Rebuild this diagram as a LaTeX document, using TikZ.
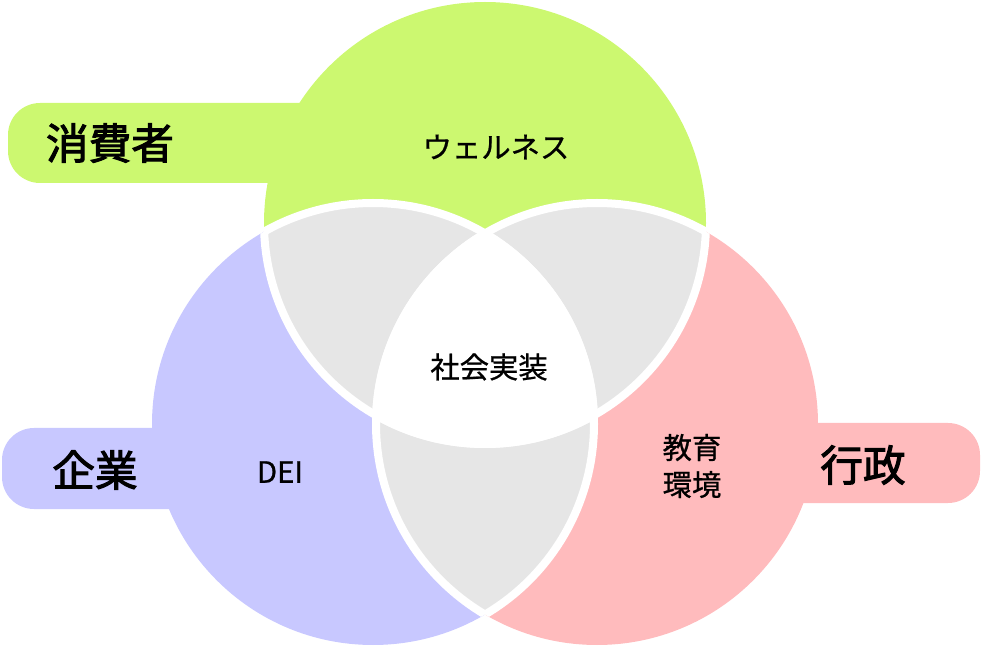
\documentclass[tikz,border=0pt]{standalone}
\usepackage{fontspec}
\setmainfont{Noto Sans CJK JP}
\newfontfamily\labelfont[FakeBold=2.4]{Noto Sans CJK JP}
\newfontfamily\areafont[FakeBold=0.8]{Noto Sans CJK JP}
\definecolor{wellgreen}{HTML}{CCF870}
\definecolor{corppurple}{HTML}{C8C8FF}
\definecolor{govpink}{HTML}{FFBBBD}
\definecolor{overlapgray}{HTML}{E6E6E6}

\begin{document}
\begin{tikzpicture}[
  x=0.75pt,y=-0.75pt,
  tabshape/.style={rounded corners=24pt},
  divider/.style={draw=white,line width=6pt},
  bigtxt/.style={font=\fontsize{32}{38}\selectfont\labelfont},
  smalltxt/.style={font=\fontsize{22}{27.75}\selectfont\areafont,align=center}
]
\useasboundingbox (0,0) rectangle (982,648);
\def\rad{221}
\coordinate (g) at (485,223);
\coordinate (l) at (373,424);
\coordinate (r) at (597,424);

% three circles
\fill[wellgreen] (g) circle[radius=\rad];
\fill[corppurple] (l) circle[radius=\rad];
\fill[govpink] (r) circle[radius=\rad];

% pairwise overlaps
\begin{scope}
  \clip (g) circle[radius=\rad];
  \fill[overlapgray] (l) circle[radius=\rad];
  \fill[overlapgray] (r) circle[radius=\rad];
\end{scope}
\begin{scope}
  \clip (l) circle[radius=\rad];
  \fill[overlapgray] (r) circle[radius=\rad];
\end{scope}

% centre
\begin{scope}
  \clip (g) circle[radius=\rad];
  \clip (l) circle[radius=\rad];
  \fill[white] (r) circle[radius=\rad];
\end{scope}

% white dividing lines, only inside the circles
\begin{scope}
  \clip (g) circle[radius=\rad];
  \draw[divider] (l) circle[radius=\rad];
  \draw[divider] (r) circle[radius=\rad];
\end{scope}
\begin{scope}
  \clip (l) circle[radius=\rad];
  \draw[divider] (g) circle[radius=\rad];
  \draw[divider] (r) circle[radius=\rad];
\end{scope}
\begin{scope}
  \clip (r) circle[radius=\rad];
  \draw[divider] (g) circle[radius=\rad];
  \draw[divider] (l) circle[radius=\rad];
\end{scope}

% tabs
\fill[wellgreen,tabshape] (8,103) rectangle (360,183);
\fill[corppurple,tabshape] (2,428) rectangle (240,509);
\fill[govpink,tabshape] (760,423) rectangle (980,503);

\node[bigtxt] (consumer) at (110,143) {消費者};
\node[bigtxt] (company) at (95,470) {企業};
\node[bigtxt] (govt) at (863,465) {行政};

\node[smalltxt] (wellness) at (496,147) {ウェルネス};
\node[smalltxt] (social) at (489,367) {社会実装};
\node[smalltxt] (dei) at (280,472) {DEI};
\node[smalltxt] (edu) at (692,466) {教育\\環境};
\end{tikzpicture}
\end{document}
